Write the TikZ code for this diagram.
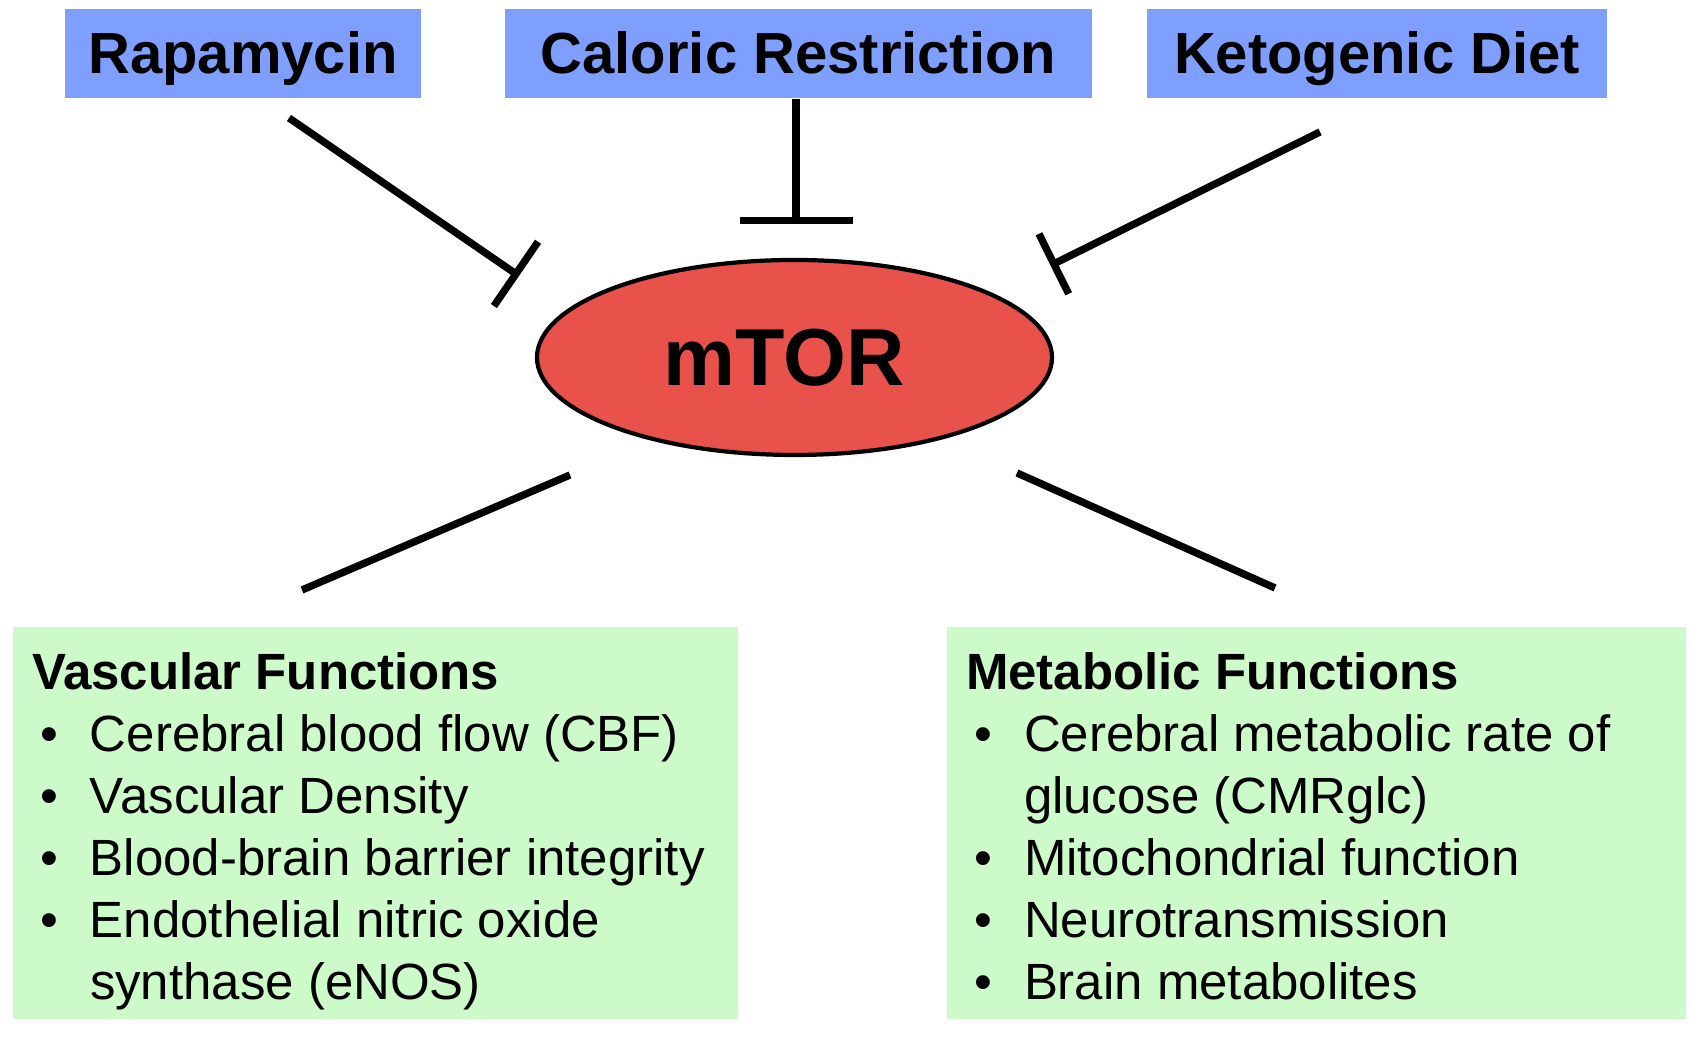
\documentclass[tikz,border=0pt]{standalone}
\usepackage{fontspec}
\setmainfont{Liberation Sans}
\usetikzlibrary{shapes.geometric,arrows.meta,positioning}

\definecolor{agentblue}{RGB}{127,159,255}
\definecolor{mtorred}{RGB}{232,82,74}
\definecolor{funcgreen}{RGB}{204,250,200}

\tikzset{
	agent/.style={fill=agentblue, minimum height=0.89cm, inner sep=0pt,
		font=\fontsize{16.5}{19}\selectfont\bfseries, text height=1.15em, text depth=0pt},
	funcbox/.style={fill=funcgreen, minimum height=3.92cm, inner sep=0pt},
	functext/.style={anchor=north west, inner sep=0pt, align=left,
		font=\fontsize{14.5}{17.6}\selectfont},
	inhibit/.style={line width=2.1pt, -{Bar[width=#1]}},
	link/.style={line width=2.1pt}
}
\newcommand{\bulletitem}[1]{\makebox[0.58cm][l]{\hspace*{0.08cm}\textbullet}#1}

\begin{document}
\begin{tikzpicture}
	    \useasboundingbox (0,0) rectangle (17,10.37);
	    % agents
	    \node[agent, minimum width=3.56cm] (rapa) at (2.43,9.835) {Rapamycin};
	    \node[agent, minimum width=5.87cm] (calres) at (7.985,9.835) {Caloric Restriction};
	    \node[agent, minimum width=4.60cm] (keto) at (13.77,9.835) {Ketogenic Diet};
	    % mTOR
	    \node[ellipse, draw=black, line width=1.2pt, fill=mtorred, inner sep=0pt,
	        minimum width=5.15cm, minimum height=1.95cm,
	        font=\fontsize{23}{26}\selectfont\bfseries] (mtor) at (7.945,6.795) {mTOR\kern0.2cm};
	    % functions
	    \node[funcbox, minimum width=7.25cm] (vasc) at (3.755,2.14) {};
	    \node[funcbox, minimum width=7.39cm] (metab) at (13.165,2.14) {};
	    \node[functext] (vasctext) at ([shift={(0.19,-0.26)}]vasc.north west) {%
	        \textbf{Vascular Functions}\\
	        \bulletitem{Cerebral blood flow (CBF)}\\
	        \bulletitem{Vascular Density}\\
	        \bulletitem{Blood-brain barrier integrity}\\
	        \bulletitem{Endothelial nitric oxide}\\
	        \hspace*{0.58cm}synthase (eNOS)};
	    \node[functext] (metabtext) at ([shift={(0.19,-0.26)}]metab.north west) {%
	        \textbf{Metabolic Functions}\\
	        \bulletitem{Cerebral metabolic rate of}\\
	        \hspace*{0.58cm}glucose (CMRglc)\\
	        \bulletitem{Mitochondrial function}\\
	        \bulletitem{Neurotransmission}\\
	        \bulletitem{Brain metabolites}};
	    % connectors
	    \coordinate (rapa-a) at (2.89,9.19);
	    \coordinate (rapa-b) at (5.19,7.61);
	    \coordinate (cal-b) at (7.96,8.13);
	    \coordinate (keto-a) at (13.20,9.05);
	    \coordinate (keto-b) at (10.505,7.715);
	    \coordinate (vasc-a) at (5.70,5.62);
	    \coordinate (vasc-b) at (3.02,4.47);
	    \coordinate (metab-a) at (10.17,5.64);
	    \coordinate (metab-b) at (12.75,4.49);
	    \draw[inhibit=0.78cm] (rapa-a) -- (rapa-b);
	    \draw[inhibit=1.13cm] (calres.south -| cal-b) -- (cal-b);
	    \draw[inhibit=0.67cm] (keto-a) -- (keto-b);
	    \draw[link] (vasc-a) -- (vasc-b);
	    \draw[link] (metab-a) -- (metab-b);
\end{tikzpicture}
\end{document}
